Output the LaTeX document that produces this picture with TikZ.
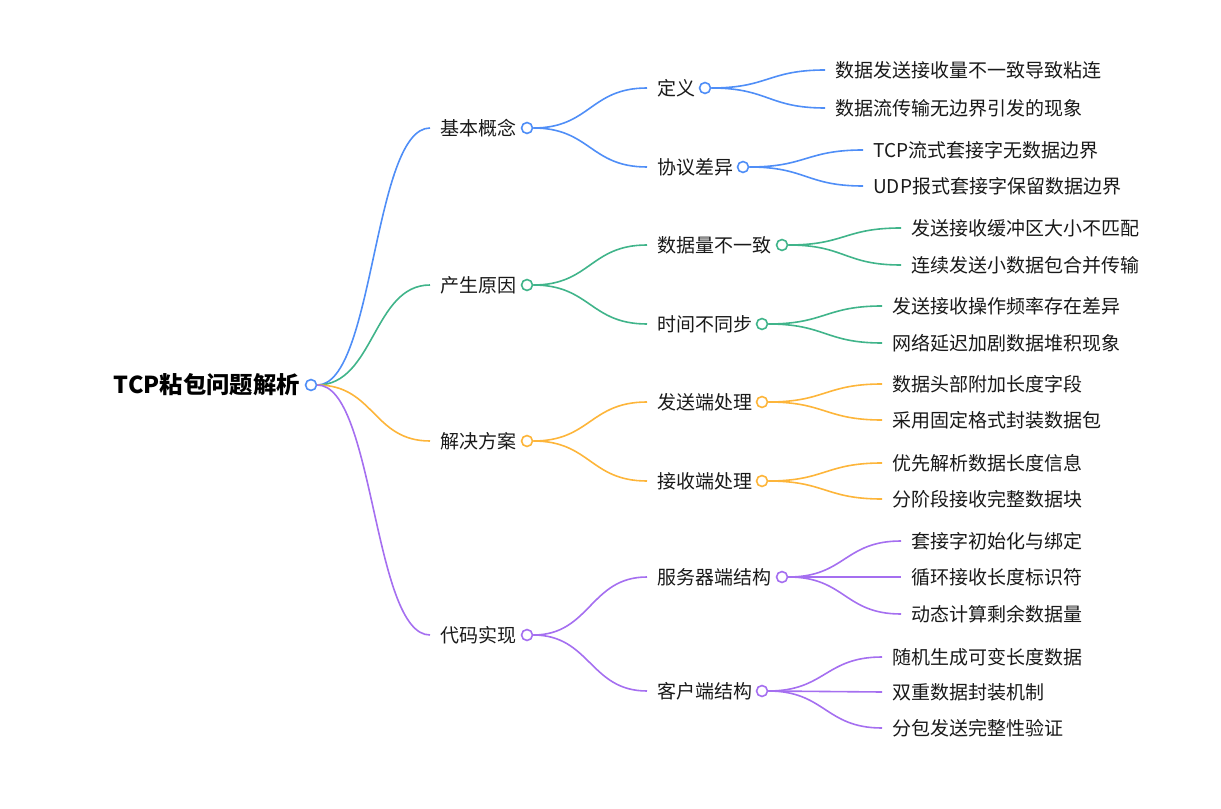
\documentclass[tikz,border=0pt]{standalone}
\usepackage{fontspec}
\setmainfont{Noto Sans CJK SC}

\definecolor{mapblue}{HTML}{4F8EF7}
\definecolor{mapgreen}{HTML}{40B48A}
\definecolor{maporange}{HTML}{FDB53A}
\definecolor{mappurple}{HTML}{A56FF0}

\tikzset{
  topic/.style={font=\fontsize{14.25}{17}\selectfont, inner sep=0pt, anchor=west, text=black!90},
  rootlabel/.style={font=\bfseries\fontsize{17.5}{20}\selectfont, inner sep=0pt, anchor=east, text=black},
  dot/.style={circle, draw, fill=white, line width=1.2pt, minimum size=8.2pt, inner sep=0pt},
  wire/.style={line width=1.2pt},
}

% curve from a circle to the left side of a text
\newcommand{\mmlink}[3]{\draw[wire, #1] (#2.east) .. controls +(57,0) and +(-57,0) .. ([xshift=-7.5pt]#3.west);}

\begin{document}
\begin{tikzpicture}[x=0.75pt, y=-0.75pt]
        \useasboundingbox (0,0) rectangle (1221,809);

        % Root
        \node[rootlabel] (root) at (300,385) {TCP粘包问题解析};
        \node[dot, draw=mapblue] (rootc) at (311,385) {};

        % Level 1
        \node[topic] (basic) at (440,128) {基本概念};
        \node[dot, draw=mapblue] (basicc) at (527,128) {};
        \node[topic] (cause) at (440,285) {产生原因};
        \node[dot, draw=mapgreen] (causec) at (527,285) {};
        \node[topic] (solve) at (440,441) {解决方案};
        \node[dot, draw=maporange] (solvec) at (527,441) {};
        \node[topic] (code) at (440,635) {代码实现};
        \node[dot, draw=mappurple] (codec) at (527,635) {};

        % Level 2
        \node[topic] (def) at (657,88) {定义};
        \node[dot, draw=mapblue] (defc) at (705,88) {};
        \node[topic] (proto) at (657,167) {协议差异};
        \node[dot, draw=mapblue] (protoc) at (743,167) {};
        \node[topic] (amount) at (657,245) {数据量不一致};
        \node[dot, draw=mapgreen] (amountc) at (782,245) {};
        \node[topic] (timing) at (657,324) {时间不同步};
        \node[dot, draw=mapgreen] (timingc) at (762,324) {};
        \node[topic] (sender) at (657,402) {发送端处理};
        \node[dot, draw=maporange] (senderc) at (762,402) {};
        \node[topic] (receiver) at (657,481) {接收端处理};
        \node[dot, draw=maporange] (receiverc) at (762,481) {};
        \node[topic] (server) at (657,577) {服务器端结构};
        \node[dot, draw=mappurple] (serverc) at (782,577) {};
        \node[topic] (client) at (657,691) {客户端结构};
        \node[dot, draw=mappurple] (clientc) at (762,691) {};

        % Leaves
        \node[topic] (def1) at (835,70) {数据发送接收量不一致导致粘连};
        \node[topic] (def2) at (835,108) {数据流传输无边界引发的现象};
        \node[topic] (proto1) at (873,150) {TCP流式套接字无数据边界};
        \node[topic] (proto2) at (873,186) {UDP报式套接字保留数据边界};
        \node[topic] (amount1) at (911,228) {发送接收缓冲区大小不匹配};
        \node[topic] (amount2) at (911,265) {连续发送小数据包合并传输};
        \node[topic] (timing1) at (892,306) {发送接收操作频率存在差异};
        \node[topic] (timing2) at (892,343) {网络延迟加剧数据堆积现象};
        \node[topic] (sender1) at (892,384) {数据头部附加长度字段};
        \node[topic] (sender2) at (892,420) {采用固定格式封装数据包};
        \node[topic] (receiver1) at (892,463) {优先解析数据长度信息};
        \node[topic] (receiver2) at (892,499) {分阶段接收完整数据块};
        \node[topic] (server1) at (911,541) {套接字初始化与绑定};
        \node[topic] (server2) at (911,577) {循环接收长度标识符};
        \node[topic] (server3) at (911,614) {动态计算剩余数据量};
        \node[topic] (client1) at (892,657) {随机生成可变长度数据};
        \node[topic] (client2) at (892,692) {双重数据封装机制};
        \node[topic] (client3) at (892,728) {分包发送完整性验证};

        % Connectors
        \mmlink{mapblue}{rootc}{basic}
        \mmlink{mapgreen}{rootc}{cause}
        \mmlink{maporange}{rootc}{solve}
        \mmlink{mappurple}{rootc}{code}

        \mmlink{mapblue}{basicc}{def}
        \mmlink{mapblue}{basicc}{proto}
        \mmlink{mapgreen}{causec}{amount}
        \mmlink{mapgreen}{causec}{timing}
        \mmlink{maporange}{solvec}{sender}
        \mmlink{maporange}{solvec}{receiver}
        \mmlink{mappurple}{codec}{server}
        \mmlink{mappurple}{codec}{client}

        \mmlink{mapblue}{defc}{def1}
        \mmlink{mapblue}{defc}{def2}
        \mmlink{mapblue}{protoc}{proto1}
        \mmlink{mapblue}{protoc}{proto2}
        \mmlink{mapgreen}{amountc}{amount1}
        \mmlink{mapgreen}{amountc}{amount2}
        \mmlink{mapgreen}{timingc}{timing1}
        \mmlink{mapgreen}{timingc}{timing2}
        \mmlink{maporange}{senderc}{sender1}
        \mmlink{maporange}{senderc}{sender2}
        \mmlink{maporange}{receiverc}{receiver1}
        \mmlink{maporange}{receiverc}{receiver2}
        \mmlink{mappurple}{serverc}{server1}
        \mmlink{mappurple}{serverc}{server2}
        \mmlink{mappurple}{serverc}{server3}
        \mmlink{mappurple}{clientc}{client1}
        \mmlink{mappurple}{clientc}{client2}
        \mmlink{mappurple}{clientc}{client3}
\end{tikzpicture}
\end{document}
